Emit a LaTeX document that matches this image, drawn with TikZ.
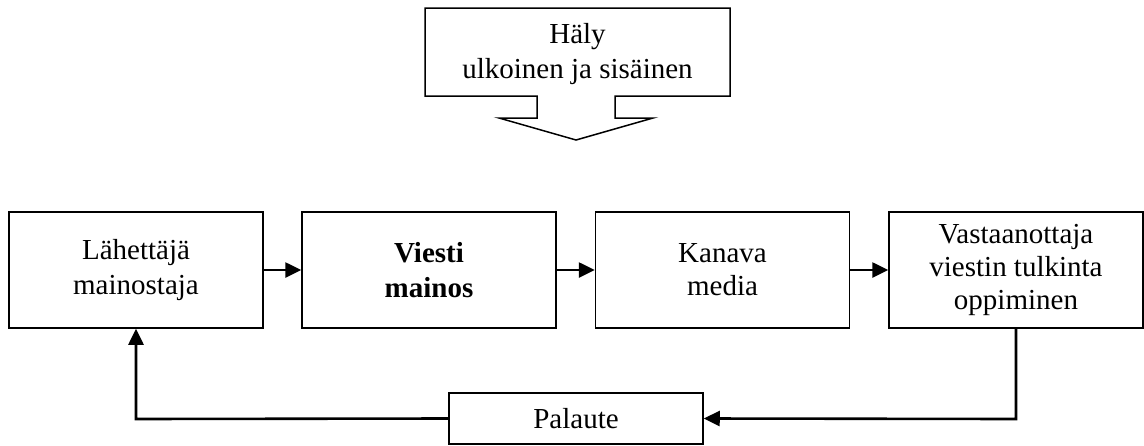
\documentclass[tikz,border=0pt]{standalone}
\usepackage{fontspec}
\setmainfont{Liberation Serif}
\usetikzlibrary{arrows.meta}
\begin{document}
\begin{tikzpicture}[x=1pt,y=-1pt,
  txt/.style={font=\fontsize{29}{35}\selectfont},
  box/.style={draw,line width=1.5pt,minimum width=254pt,minimum height=116pt,
    align=center,inner sep=0pt,txt},
  fbbox/.style={draw,line width=1.5pt,minimum width=254pt,minimum height=51pt,
    inner sep=0pt,txt},
  flow/.style={line width=2.6pt,-{Triangle[length=16pt,width=15pt]}}]
\useasboundingbox (0,0) rectangle (1144,445);
% noise callout with downward arrow
\draw[line width=1.5pt,line join=miter] (425,8) -- (730,8) -- (730,96) -- (615,96) -- (615,118)
  -- (653,118) -- (576,140) -- (499,118) -- (537,118) -- (537,96) -- (425,96) -- cycle;
\node[align=center,inner sep=0pt,txt] (noise) at (577.5,54)
  {Häly\\ulkoinen ja sisäinen};
% communication chain
\node[box] (sender) at (136,270) {Lähettäjä\\mainostaja};
\node[box,font=\fontsize{29}{35}\selectfont\bfseries] (message) at (429,270) {Viesti\\mainos};
\node[box,font=\fontsize{29}{33}\selectfont] (channel) at (722.5,270) {Kanava\\media};
\node[box,font=\fontsize{29}{33}\selectfont] (receiver) at (1016,270) {Vastaanottaja\\viestin tulkinta\\oppiminen};
\node[fbbox] (feedback) at (576,418.5) {Palaute};
\coordinate (rdown) at (1016,419);
\coordinate (lup) at (136,419);
\draw[flow] (sender) -- (message);
\draw[flow] (message) -- (channel);
\draw[flow] (channel) -- (receiver);
\draw[flow] (receiver.south) -- (rdown) -- (feedback.east);
\draw[flow] (feedback.west) -- (lup) -- (sender.south);
\end{tikzpicture}
\end{document}
